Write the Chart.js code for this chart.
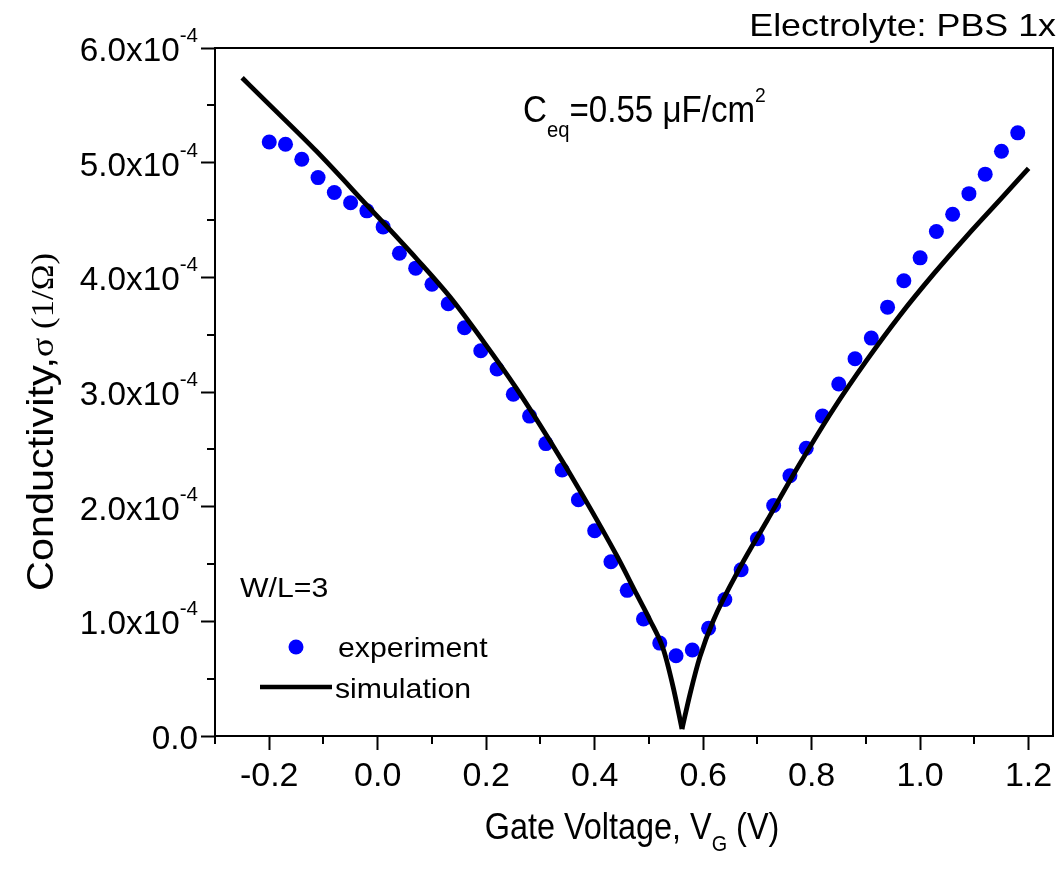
<!DOCTYPE html>
<html><head><meta charset="utf-8">
<script src="https://cdn.jsdelivr.net/npm/chart.js@4.4.1/dist/chart.umd.min.js"></script>
<style>html,body{margin:0;padding:0;background:#fff}canvas{display:block}</style>
</head><body>
<canvas id="c" width="1062" height="870"></canvas>
<script>
// ---- data ----
const expVoltage = [-0.20,-0.17,-0.14,-0.11,-0.08,-0.05,-0.02,0.01,0.04,0.07,0.10,0.13,0.16,0.19,0.22,0.25,0.28,0.31,0.34,0.37,0.40,0.43,0.46,0.49,0.52,0.55,0.58,0.61,0.64,0.67,0.70,0.73,0.76,0.79,0.82,0.85,0.88,0.91,0.94,0.97,1.00,1.03,1.06,1.09,1.12,1.15,1.18];
const expConductivity = [5.18e-4,5.16e-4,5.03e-4,4.87e-4,4.74e-4,4.65e-4,4.58e-4,4.44e-4,4.21e-4,4.08e-4,3.94e-4,3.77e-4,3.56e-4,3.36e-4,3.20e-4,2.98e-4,2.79e-4,2.55e-4,2.32e-4,2.06e-4,1.79e-4,1.52e-4,1.27e-4,1.02e-4,0.81e-4,0.70e-4,0.75e-4,0.94e-4,1.19e-4,1.45e-4,1.72e-4,2.01e-4,2.27e-4,2.51e-4,2.79e-4,3.07e-4,3.29e-4,3.47e-4,3.74e-4,3.97e-4,4.17e-4,4.40e-4,4.55e-4,4.73e-4,4.90e-4,5.10e-4,5.26e-4];
const simVoltage = [-0.25,-0.205,-0.113,-0.02,0.072,0.133,0.195,0.256,0.318,0.379,0.441,0.478,0.502,0.527,0.545,0.561,0.576,0.594,0.619,0.668,0.718,0.779,0.840,0.902,0.963,1.025,1.086,1.148,1.20];
const simConductivity = [5.74e-4,5.53e-4,5.10e-4,4.63e-4,4.16e-4,3.83e-4,3.44e-4,3.03e-4,2.57e-4,2.09e-4,1.57e-4,1.23e-4,1.01e-4,0.75e-4,0.42e-4,0.06e-4,0.37e-4,0.69e-4,1.01e-4,1.47e-4,1.88e-4,2.38e-4,2.85e-4,3.28e-4,3.67e-4,4.03e-4,4.36e-4,4.68e-4,4.95e-4];

const xTickValues = [-0.2,0.0,0.2,0.4,0.6,0.8,1.0,1.2];
const xTickLabels = ['-0.2','0.0','0.2','0.4','0.6','0.8','1.0','1.2'];
const xMinorTickValues = [-0.3,-0.1,0.1,0.3,0.5,0.7,0.9,1.1];
const yTickValues = [0,1e-4,2e-4,3e-4,4e-4,5e-4,6e-4];
const yTickMantissa = ['0.0','1.0x10','2.0x10','3.0x10','4.0x10','5.0x10','6.0x10'];
const yTickExponent = ['','-4','-4','-4','-4','-4','-4'];
const yMinorTickValues = [0.5e-4,1.5e-4,2.5e-4,3.5e-4,4.5e-4,5.5e-4];

const SANS = '"Liberation Sans", Arial, sans-serif';
const SERIF = '"Liberation Serif", "Times New Roman", serif';

// the simulated curve has a cusp at its minimum: draw it as two smooth branches
const simPoints = simVoltage.map((v, i) => ({x: v, y: simConductivity[i]}));
const minIdx = simConductivity.indexOf(Math.min(...simConductivity));
const simLeft = simPoints.slice(0, minIdx + 1);
const simRight = simPoints.slice(minIdx);

function drawRun(ctx, segs, x, y, align, sx) {
  let total = 0;
  segs.forEach(s => { ctx.font = s.font; s.w = ctx.measureText(s.t).width; total += s.w; });
  ctx.save();
  ctx.translate(x, y);
  ctx.scale(sx, 1);
  let cx = align === 'right' ? -total : (align === 'center' ? -total / 2 : 0);
  ctx.textAlign = 'left';
  ctx.textBaseline = 'alphabetic';
  segs.forEach(s => { ctx.font = s.font; ctx.fillText(s.t, cx, s.dy || 0); cx += s.w; });
  ctx.restore();
}

const decor = {
  id: 'decor',
  afterDraw(chart) {
    const ctx = chart.ctx, a = chart.chartArea;
    const xs = chart.scales.x, ys = chart.scales.y;
    ctx.save();
    ctx.fillStyle = '#000'; ctx.strokeStyle = '#000';
    ctx.lineWidth = 2;
    ctx.strokeRect(a.left, a.top, a.right - a.left, a.bottom - a.top);
    ctx.beginPath();
    xMinorTickValues.forEach(v => { const px = Math.round(xs.getPixelForValue(v)); ctx.moveTo(px, a.bottom); ctx.lineTo(px, a.bottom + 8); });
    yMinorTickValues.forEach(v => { const py = Math.round(ys.getPixelForValue(v)); ctx.moveTo(a.left, py); ctx.lineTo(a.left - 8, py); });
    ctx.stroke();
    yTickValues.forEach((v, i) => {
      const py = ys.getPixelForValue(v);
      const segs = [{t: yTickMantissa[i], font: '34px ' + SANS, dy: 13}];
      if (yTickExponent[i]) segs.push({t: yTickExponent[i], font: '21px ' + SANS, dy: -6});
      drawRun(ctx, segs, 198, py, 'right', 0.98);
    });
    ctx.save();
    ctx.translate(53, 422);
    ctx.rotate(-Math.PI / 2);
    drawRun(ctx, [
      {t: 'Conductivity,', font: '37px ' + SANS},
      {t: 'σ', font: '32px ' + SERIF},
      {t: ' (1/Ω)', font: '31px ' + SERIF}
    ], 0, 0, 'center', 1.12);
    ctx.restore();
    drawRun(ctx, [
      {t: 'Gate Voltage, V', font: '36px ' + SANS},
      {t: 'G', font: '22px ' + SANS, dy: 12},
      {t: ' (V)', font: '36px ' + SANS}
    ], 632, 839, 'center', 0.9);
    drawRun(ctx, [{t: 'Electrolyte: PBS 1x', font: '32px ' + SANS}], 1056, 36, 'right', 1.12);
    drawRun(ctx, [
      {t: 'C', font: '36px ' + SANS},
      {t: 'eq', font: '22px ' + SANS, dy: 15},
      {t: '=0.55 μF/cm', font: '36px ' + SANS},
      {t: '2', font: '21px ' + SANS, dy: -20}
    ], 523, 122, 'left', 0.92);
    drawRun(ctx, [{t: 'W/L=3', font: '28px ' + SANS}], 240, 597, 'left', 1.08);
    ctx.fillStyle = '#0000ff';
    ctx.beginPath(); ctx.arc(296, 647, 7.5, 0, Math.PI * 2); ctx.fill();
    ctx.fillStyle = '#000';
    drawRun(ctx, [{t: 'experiment', font: '28px ' + SANS}], 338, 657, 'left', 1.08);
    ctx.lineWidth = 4.5;
    ctx.beginPath(); ctx.moveTo(260, 687); ctx.lineTo(332, 687); ctx.stroke();
    drawRun(ctx, [{t: 'simulation', font: '28px ' + SANS}], 335, 698, 'left', 1.08);
    ctx.restore();
  }
};

const lineStyle = {
  showLine: true, borderColor: '#000', borderWidth: 4.8, pointRadius: 0,
  cubicInterpolationMode: 'monotone', fill: false, order: 0, clip: false
};

new Chart(document.getElementById('c').getContext('2d'), {
  type: 'scatter',
  data: {
    datasets: [
      Object.assign({label: 'simulation', data: simLeft}, lineStyle),
      Object.assign({label: 'simulation ', data: simRight}, lineStyle),
      {
        label: 'experiment',
        data: expVoltage.map((v, i) => ({x: v, y: expConductivity[i]})),
        showLine: false, backgroundColor: '#0000ff', borderColor: '#0000ff',
        borderWidth: 0, pointRadius: 7.5, order: 1
      }
    ]
  },
  options: {
    responsive: false, animation: false, devicePixelRatio: 1,
    layout: {padding: {top: 48, right: 9, left: 0, bottom: 0}},
    plugins: {legend: {display: false}, tooltip: {enabled: false}, title: {display: false}},
    scales: {
      x: {
        type: 'linear', min: -0.3, max: 1.245,
        afterBuildTicks: s => { s.ticks = xTickValues.map(v => ({value: v})); },
        afterFit: s => { s.height = 134; },
        grid: {drawOnChartArea: false, drawTicks: true, tickLength: 14, tickWidth: 2, tickColor: '#000'},
        border: {display: true, color: '#000', width: 2},
        ticks: {
          color: '#000', font: {family: SANS, size: 34}, padding: 6,
          maxRotation: 0, autoSkip: false,
          callback: v => xTickLabels[xTickValues.indexOf(v)]
        }
      },
      y: {
        type: 'linear', min: 0, max: 6e-4,
        afterBuildTicks: s => { s.ticks = yTickValues.map(v => ({value: v})); },
        afterFit: s => { s.width = 215; },
        grid: {drawOnChartArea: false, drawTicks: true, tickLength: 14, tickWidth: 2, tickColor: '#000'},
        border: {display: true, color: '#000', width: 2},
        ticks: {display: false}
      }
    }
  },
  plugins: [decor]
});
</script>
</body></html>
